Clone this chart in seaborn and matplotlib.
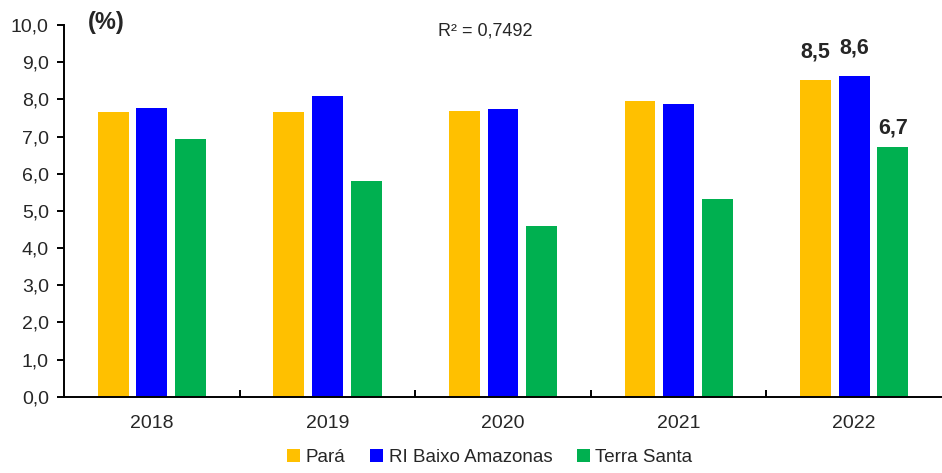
import seaborn as sns
import pandas as pd
import matplotlib.pyplot as plt
from matplotlib.ticker import FuncFormatter, FixedLocator

years = ["2018", "2019", "2020", "2021", "2022"]
para = [7.66, 7.66, 7.68, 7.97, 8.52]
ri_baixo = [7.76, 8.08, 7.74, 7.88, 8.62]
terra_santa = [6.94, 5.81, 4.60, 5.32, 6.72]
series = ["Pará", "RI Baixo Amazonas", "Terra Santa"]
colors = {"Pará": "#FFC000", "RI Baixo Amazonas": "#0000FF", "Terra Santa": "#00B050"}

df = pd.DataFrame({
    "year": years * 3,
    "serie": [s for s in series for _ in years],
    "valor": para + ri_baixo + terra_santa,
})

sns.set_style("white")
plt.rcParams['font.family'] = ['Liberation Sans', 'DejaVu Sans']

fig = plt.figure(figsize=(9.42, 4.73), dpi=100)
ax = fig.add_axes([0.068, 0.161, 0.932, 0.786])

sns.barplot(data=df, x="year", y="valor", hue="serie", order=years,
            hue_order=series, palette=colors, saturation=1, width=0.66, gap=0.2,
            edgecolor="none", linewidth=0, legend=True, ax=ax)

ax.set_ylim(0, 10)
ax.set_xlim(-0.5, 4.5)
ax.set_yticks([i for i in range(11)])
ax.yaxis.set_major_formatter(FuncFormatter(lambda v, p: f"{v:.1f}".replace(".", ",")))
ax.set_xlabel("")
ax.set_ylabel("")

for s in ["top", "right"]:
    ax.spines[s].set_visible(False)
for s in ["left", "bottom"]:
    ax.spines[s].set_color("black")
    ax.spines[s].set_linewidth(1.4)

ax.tick_params(axis="y", direction="out", length=5, width=1.4, color="black",
               labelsize=14, pad=6, left=True)
ax.tick_params(axis="x", which="major", length=0, labelsize=14, pad=13)
ax.xaxis.set_minor_locator(FixedLocator([0.5, 1.5, 2.5, 3.5]))
ax.tick_params(axis="x", which="minor", direction="in", length=5, width=1.4,
               color="black", bottom=True)

# labels on 2022 bars
offsets = [13, 13, 6]
for cont, off in zip(ax.containers, offsets):
    bar = cont.patches[-1]
    h = bar.get_height()
    ax.annotate(f"{h:.1f}".replace(".", ","), (bar.get_x() + bar.get_width() / 2, h),
                xytext=(0, off), textcoords="offset points", ha="center", va="bottom",
                fontsize=15.5, fontweight="bold")

fig.text(0.093, 0.953, "(%)", fontsize=17, fontweight="bold", ha="left", va="center")
fig.text(0.515, 0.935, "R² = 0,7492", fontsize=13, ha="center", va="center")

handles, labels = ax.get_legend_handles_labels()
ax.legend(handles, labels, loc="lower center", bbox_to_anchor=(0.52, -0.005),
          bbox_transform=fig.transFigure, ncol=3, frameon=False, fontsize=13.5,
          handlelength=0.7, handleheight=0.7, handletextpad=0.3, columnspacing=1.3,
          borderaxespad=0.1)

fig.savefig("out.png", dpi=100)
